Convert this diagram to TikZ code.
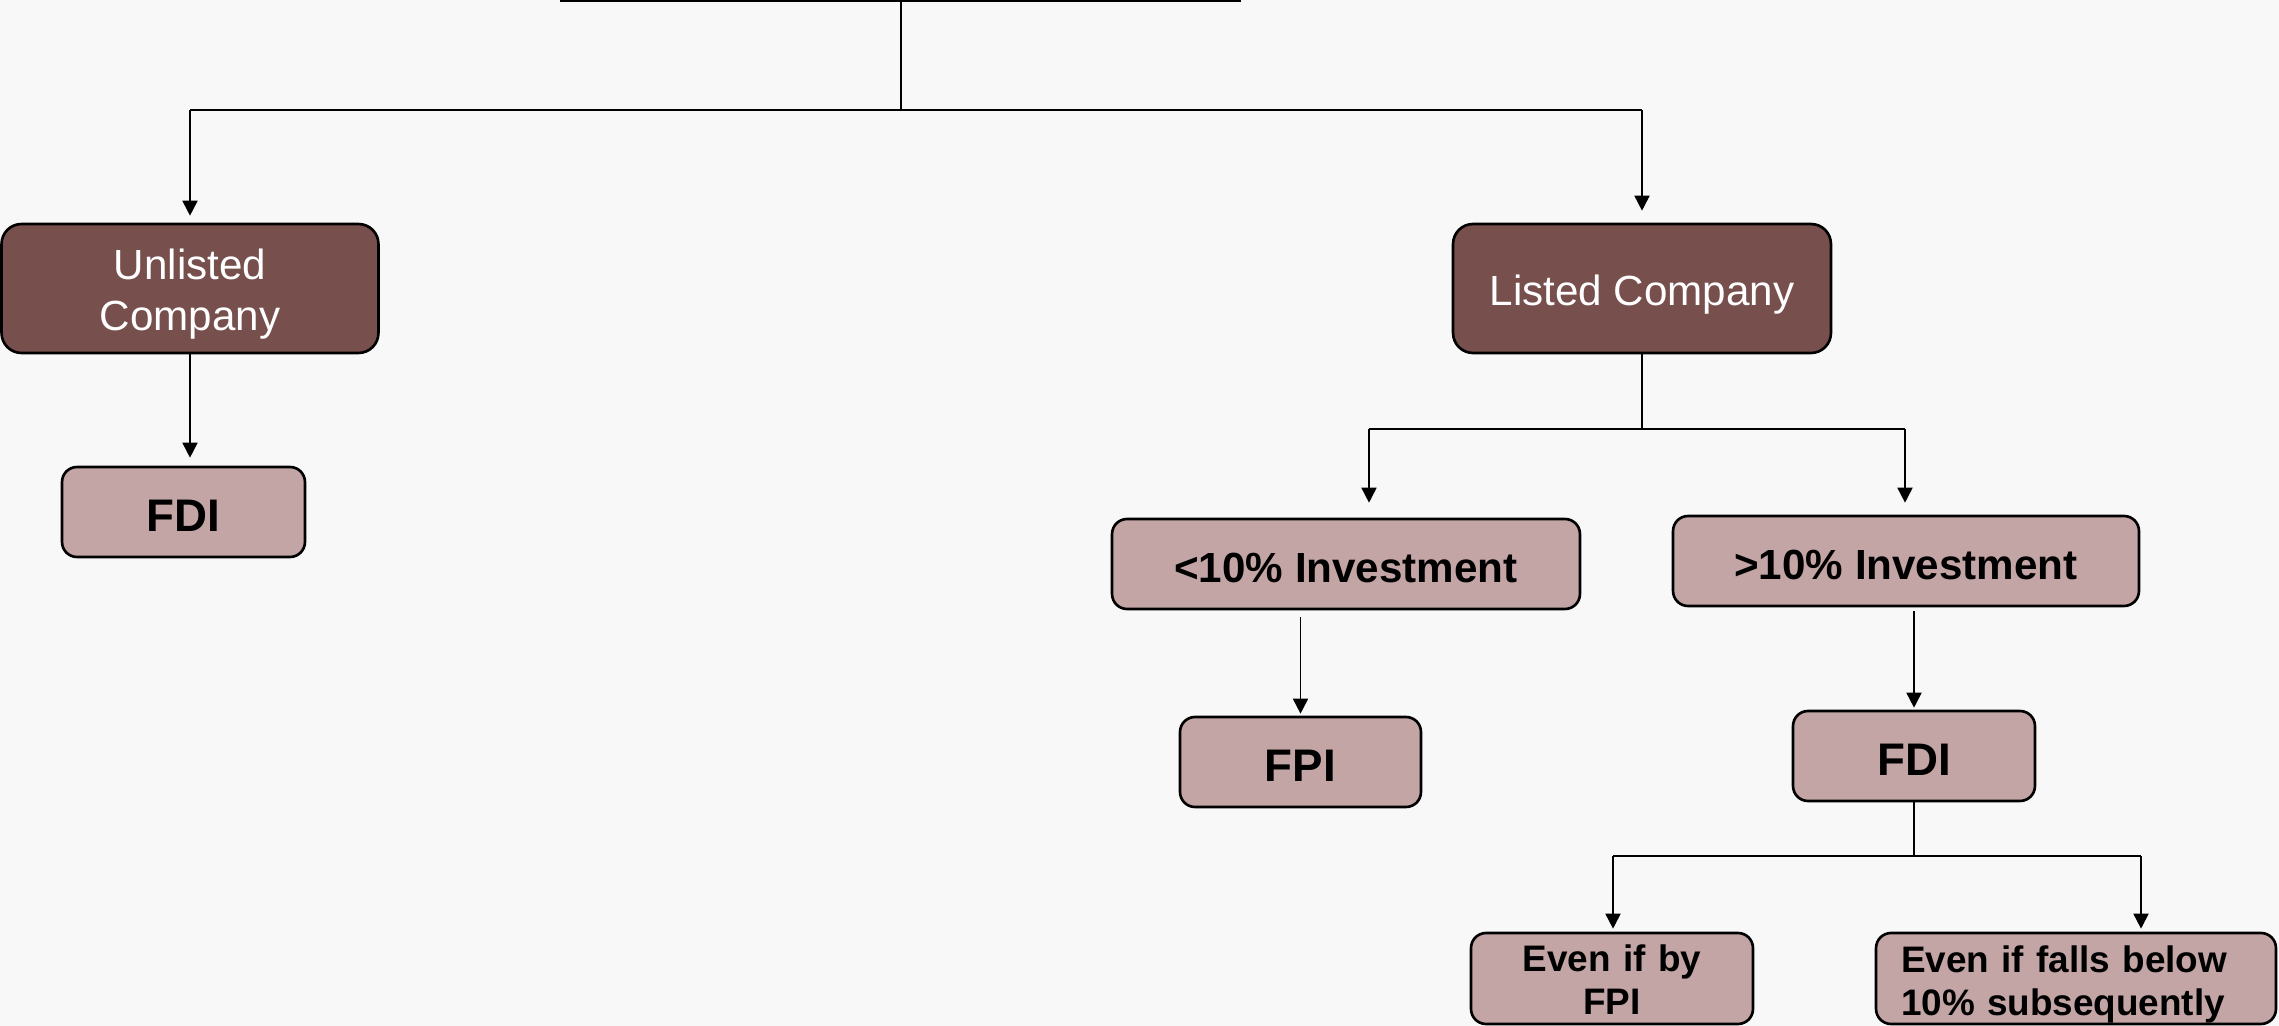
\documentclass[tikz,border=0pt]{standalone}
\usepackage{fontspec}
\setmainfont{Liberation Sans}
\usetikzlibrary{arrows.meta}
\definecolor{pagebg}{HTML}{F8F8F8}
\definecolor{headfill}{HTML}{774F4D}
\definecolor{leaffill}{HTML}{C4A5A6}
\begin{document}
\begin{tikzpicture}[x=0.02cm,y=-0.02cm,
  headbox/.style={draw=black, line width=1.5pt, rounded corners=0.4cm, fill=headfill,
    text=white, align=center, inner sep=0pt, minimum height=2.58cm, text height=24pt,
    font=\fontsize{24}{29}\selectfont},
  leafbox/.style={draw=black, line width=1.5pt, rounded corners=0.3cm, fill=leaffill,
    text=black, align=center, inner sep=0pt, minimum height=1.8cm},
  bigbold/.style={font=\bfseries\fontsize{26}{30}\selectfont, text height=22pt},
  midbold/.style={font=\bfseries\fontsize{24}{29}\selectfont, text height=21pt},
  smallbold/.style={font=\bfseries\fontsize{21}{24.5}\selectfont},
  link/.style={line width=1pt},
  bar/.style={line width=1.5pt},
  arr/.style={line width=1pt, -{Triangle[length=0.3cm,width=0.3cm]}}]

% page
\fill[pagebg] (0,0) rectangle (2279,1026);
\useasboundingbox (0,0) rectangle (2279,1026);

% boxes
\node[headbox, minimum width=7.54cm, text width=7cm] (unl) at (190,288.5) {Unlisted\\Company};
\node[headbox, minimum width=7.56cm] (lst) at (1642,288.5) {Listed Company};
\node[leafbox, bigbold, minimum width=4.86cm] (fdiL) at (183.5,512) {FDI};
\node[leafbox, midbold, minimum width=9.36cm] (lt) at (1346,564) {<10\% Investment};
\node[leafbox, midbold, minimum width=9.32cm] (gt) at (1906,561) {>10\% Investment};
\node[leafbox, bigbold, minimum width=4.82cm] (fpi) at (1300.5,762) {FPI};
\node[leafbox, bigbold, minimum width=4.84cm] (fdiR) at (1914,756) {FDI};
\node[leafbox, smallbold, text width=5cm, text height=16.5pt, minimum width=5.64cm, minimum height=1.82cm] (evf) at (1612,978.5) {Even if by\\FPI};
\node[leafbox, smallbold, text height=21.9pt, align=left, text width=7cm, minimum width=8cm, minimum height=1.82cm] (evb) at (2076,978.5) {Even if falls below\\10\% subsequently};

% top branch
\coordinate (topL) at (560,1);
\coordinate (topR) at (1241,1);
\coordinate (root) at (901,1);
\coordinate (j0) at (901,110);
\draw[link] (topL) -- (topR);
\draw[link] (root) -- (j0);
\draw[bar] (unl.north |- j0) -- (lst.north |- j0);
\draw[arr, shorten >=0.14cm] (unl.north |- j0) -- (unl.north);
\draw[arr, shorten >=0.24cm] (lst.north |- j0) -- (lst.north);

% unlisted company
\draw[arr, shorten >=0.16cm] (unl.south) -- (unl.south |- fdiL.north);

% listed company
\coordinate (j1) at (1642,429);
\coordinate (jl) at (1369,429);
\coordinate (jr) at (1905,429);
\draw[link] (lst.south) -- (j1);
\draw[bar] (jl) -- (jr);
\draw[arr, shorten >=0.3cm] (jl) -- (jl |- lt.north);
\draw[arr, shorten >=0.24cm] (jr) -- (jr |- gt.north);

% investment shares
\draw[arr, shorten <=0.14cm, shorten >=0.04cm] (fpi.north |- lt.south) -- (fpi.north);
\draw[arr, shorten <=0.08cm, shorten >=0.04cm] (fdiR.north |- gt.south) -- (fdiR.north);

% FDI consequences
\coordinate (j2) at (1914,856);
\coordinate (bl) at (1613,856);
\coordinate (br) at (2141,856);
\draw[link] (fdiR.south) -- (j2);
\draw[bar] (bl) -- (br);
\draw[arr, shorten >=0.06cm] (bl) -- (bl |- evf.north);
\draw[arr, shorten >=0.06cm] (br) -- (br |- evb.north);
\end{tikzpicture}
\end{document}
